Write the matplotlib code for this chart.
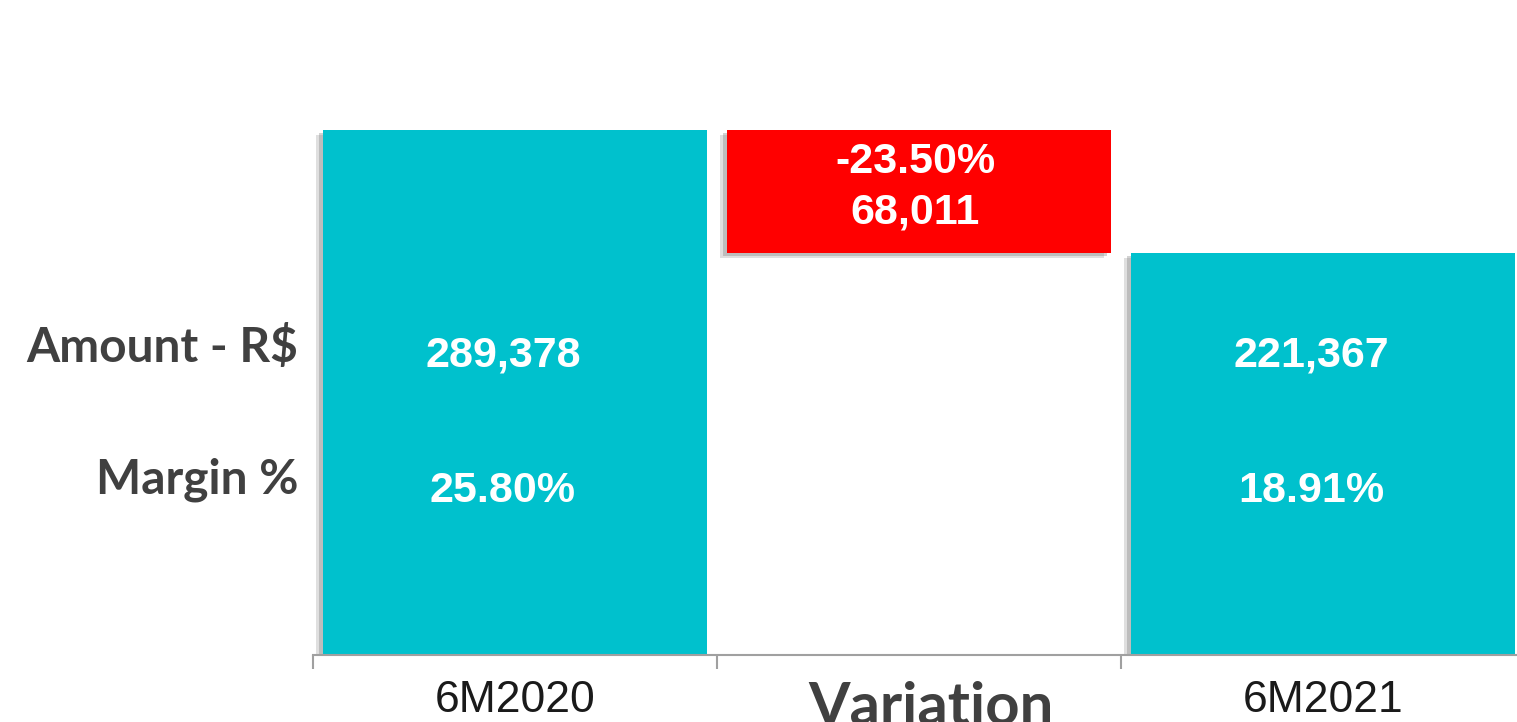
import matplotlib.pyplot as plt

# =============================================================================
# Data
# =============================================================================
CATEGORIES = ['6M2020', 'Variation', '6M2021']
AMOUNT = [289378, 221367]
MARGIN = ['25.80%', '18.91%']
VARIATION_AMOUNT = 68011
VARIATION_PCT = '-23.50%'
ROW_LABELS = ['Amount - R$', 'Margin %']

TEAL = '#00C1CD'
RED = '#FF0000'
LABEL_COLOR = '#404040'

# =============================================================================
# Layout
# =============================================================================
fig = plt.figure(figsize=(15.17, 7.22), dpi=100)
ax = fig.add_axes([313 / 1517, 67 / 722, 1212 / 1517, 635 / 722])

x = [0, 1, 2]
bottoms = [0, AMOUNT[1], 0]
heights = [AMOUNT[0], VARIATION_AMOUNT, AMOUNT[1]]
colors = [TEAL, RED, TEAL]

WIDTH = 0.95
DX = 0.018
DY = 2500

# soft drop shadow (down-left)
for k, a in [(1.0, 0.25), (0.6, 0.35)]:
    ax.bar([i - DX * k for i in x], heights, bottom=[b - DY * k for b in bottoms],
           width=WIDTH, color='#808080', alpha=a, linewidth=0, zorder=1)

ax.bar(x, heights, bottom=bottoms, width=WIDTH, color=colors,
       linewidth=0, zorder=2)

# =============================================================================
# Labels
# =============================================================================
TEXT_KW = dict(color='white', fontsize=31, fontweight='bold',
               family='Liberation Sans', ha='center', va='baseline', zorder=3,
               transform=ax.get_xaxis_transform())

ROW_Y = [0.455, 0.241]
SHIFT = -0.03
for i, amount, margin in zip([0, 2], AMOUNT, MARGIN):
    ax.text(i + SHIFT, ROW_Y[0], f'{amount:,}', **TEXT_KW)
    ax.text(i + SHIFT, ROW_Y[1], margin, **TEXT_KW)

ax.text(1 - 0.01, 0.759, VARIATION_PCT, **TEXT_KW)
ax.text(1 - 0.01, 0.680, f'{VARIATION_AMOUNT:,}', **TEXT_KW)

for label, y in zip(ROW_LABELS, [0.461, 0.255]):
    ax.text(-0.012, y, label, transform=ax.transAxes, ha='right',
            va='baseline', fontsize=34.5, fontweight='bold', family='Lato',
            color=LABEL_COLOR)

# =============================================================================
# Axes
# =============================================================================
ax.set_xlim(-0.5, 2.5)
ax.set_ylim(0, 350000)
ax.set_yticks([])
for side in ['top', 'right', 'left']:
    ax.spines[side].set_visible(False)
ax.spines['bottom'].set_color('#A0A0A0')
ax.spines['bottom'].set_linewidth(1.5)

ax.set_xticks([-0.5, 0.5, 1.5, 2.5])
ax.set_xticklabels([])
ax.tick_params(axis='x', which='major', length=10, width=1.5, color='#A0A0A0')
ax.set_xticks(x, minor=True)
ax.set_xticklabels([c if i != 1 else '' for i, c in enumerate(CATEGORIES)],
                   minor=True)
ax.tick_params(axis='x', which='minor', length=0, pad=18, labelsize=32,
               labelcolor='#1A1A1A')
for t in ax.get_xticklabels(minor=True):
    t.set_family('Liberation Sans')

# middle category label is styled differently (bold, larger, grey)
ax.text(1.03, -0.041, CATEGORIES[1], transform=ax.get_xaxis_transform(),
        ha='center', va='top', fontsize=43, fontweight='bold', family='Lato',
        color=LABEL_COLOR, clip_on=False)

fig.savefig('out.png', dpi=100)
